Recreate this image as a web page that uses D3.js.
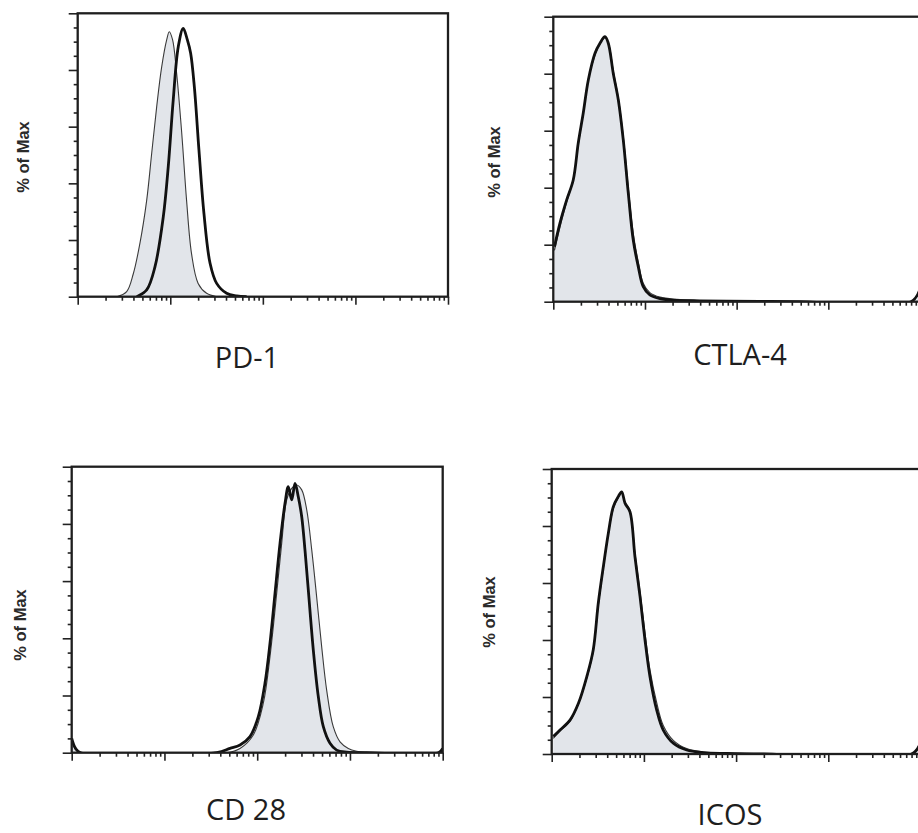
<!DOCTYPE html>
<html>
<head>
<meta charset="utf-8">
<script src="https://cdn.jsdelivr.net/npm/d3@7"></script>
<style>
  html, body { margin: 0; padding: 0; background: #fff; }
  svg { display: block; }
</style>
</head>
<body>
<svg id="chart" width="918" height="833"></svg>
<script>
// ---- Histogram data: fluorescence intensity (x) vs % of max (y) ----

// PD-1
const pd1ControlX = [26.5, 33.8, 39.8, 47.1, 55.6, 63, 71.3, 80.7, 91.4, 97.5, 106, 117, 133, 150, 170, 200, 247, 317];
const pd1ControlY = [0, 1.8, 8, 19, 34, 50.6, 67, 81, 90.6, 93.5, 90.6, 79, 57.7, 34, 15, 4.7, 1.2, 0];
const pd1SampleX  = [43.4, 55.6, 68.4, 83.9, 95.1, 107.6, 122, 138, 153, 166, 182, 204, 231, 269, 317, 406, 521, 668];
const pd1SampleY  = [0, 2.4, 10.6, 28, 45.9, 69.4, 88.2, 94.7, 90.6, 85.9, 74, 51.8, 29.4, 11.8, 4.7, 1.2, 0.3, 0];

// CTLA-4
const ctla4X        = [10.3, 11.8, 14.0, 16.5, 18.7, 21.2, 24.1, 28.5, 32.3, 36.6, 39.8, 45.1, 51.2, 58.0, 65.8, 74.5, 84.5, 95.7, 113, 146, 222, 397, 778, 1795, 4898, 80000, 100000];
const ctla4ControlY = [18, 26, 35, 43, 55, 66, 78, 86.5, 90.5, 92.5, 91, 81, 71.5, 58, 40, 24, 14, 6.5, 3.2, 1.6, 0.8, 0.4, 0.2, 0.1, 0, 0, 4];
const ctla4SampleY  = [19.3, 27.5, 35.7, 42.7, 55.6, 66.1, 77.8, 87.2, 90.7, 93.0, 90.7, 80.1, 70.8, 56.7, 38.0, 21.6, 12.3, 5.3, 2.4, 1.1, 0.5, 0.3, 0.2, 0.1, 0, 0, 4.5];

// CD 28
const cd28ControlX = [10, 11, 12.5, 469, 653, 908, 1164, 1374, 1622, 1837, 2080, 2355, 2667, 3020, 3420, 3873, 4375, 4955, 5610, 6607, 7816, 9594, 11830, 15170];
const cd28ControlY = [4, 1.2, 0, 0, 1.5, 6.2, 17.3, 33.6, 55.7, 73.2, 88.4, 92.4, 93.6, 91.9, 84.9, 70.9, 54.5, 37.1, 21.9, 9.1, 3.8, 1.5, 0.5, 0];
const cd28SampleX  = [10, 11, 12.5, 366, 509, 653, 836, 1028, 1213, 1374, 1556, 1762, 1995, 2163, 2355, 2559, 2773, 3020, 3273, 3556, 4027, 4560, 5164, 6095, 7194, 9226, 15170, 90000, 100000];
const cd28SampleY  = [5, 1.5, 0, 0, 1.5, 2.7, 5.6, 12.6, 24.3, 38.3, 55.7, 73.2, 87.2, 93, 88.4, 94.2, 89.5, 82.5, 70.9, 56.9, 35.9, 19.6, 9.1, 3.3, 0.9, 0.2, 0, 0, 1.5];

// ICOS
const icosX        = [10.4, 12.3, 15.8, 19.5, 24.0, 28.2, 32.0, 36.3, 41.1, 46.6, 52.7, 57.4, 62.4, 70.6, 80.0, 90.8, 102.8, 116.4, 137.7, 162.2, 208.4, 291.1, 440.6, 790.7, 2000, 80000, 100000];
const icosControlY = [5.5, 8, 11.5, 17.5, 26.5, 36, 52, 65, 77, 86, 90, 91.5, 88.5, 85.5, 70.5, 57, 42.5, 29.5, 18, 10, 4.8, 1.9, 0.7, 0.3, 0, 0, 3.5];
const icosSampleY  = [6.1, 8.4, 11.9, 17.8, 27.1, 36.5, 52.9, 65.7, 77.4, 86.8, 90.3, 92.0, 88.0, 85.0, 69.2, 55.2, 40.0, 27.1, 15.4, 8.4, 3.8, 1.4, 0.5, 0.2, 0, 0, 4];

// Axis tick values
const xMajorTicks = [10, 100, 1000, 10000, 100000];
const xMinorTicks = [10, 100, 1000, 10000].flatMap(d => [2, 3, 4, 5, 6, 7, 8, 9].map(m => d * m));
const yMajorTicks = [0, 20, 40, 60, 80, 100];
const yMinorTicks = d3.range(5, 100, 5).filter(v => v % 20 !== 0);

const yLabel = "% of Max";

// ---- Layout of the four panels ----
const panels = [
  { title: "PD-1",   box: { l: 77.7,  t: 13.3,  r: 448,   b: 296.7 },
    control: [pd1ControlX, pd1ControlY], sample: [pd1SampleX, pd1SampleY],
    ylab: [23, 157], tpos: [247, 368] },
  { title: "CTLA-4", box: { l: 553.3, t: 16.7,  r: 920,   b: 301.7 },
    control: [ctla4X, ctla4ControlY], sample: [ctla4X, ctla4SampleY],
    ylab: [494, 162], tpos: [740, 365] },
  { title: "CD 28",  box: { l: 71.7,  t: 466.7, r: 442.7, b: 752.7 },
    control: [cd28ControlX, cd28ControlY], sample: [cd28SampleX, cd28SampleY],
    ylab: [20, 625], tpos: [246, 820] },
  { title: "ICOS",   box: { l: 551.7, t: 469,   r: 920.5, b: 754 },
    control: [icosX, icosControlY], sample: [icosX, icosSampleY],
    ylab: [489, 612], tpos: [730, 825] }
];

const svg = d3.select("#chart");
const defs = svg.append("defs");

panels.forEach((p, i) => {
  const b = p.box;
  const x = d3.scaleLog().domain([10, 100000]).range([b.l, b.r]);
  const y = d3.scaleLinear().domain([0, 100]).range([b.b, b.t]);

  const g = svg.append("g");

  defs.append("clipPath").attr("id", "clip" + i)
    .append("rect").attr("x", b.l).attr("y", b.t)
    .attr("width", b.r - b.l).attr("height", b.b - b.t);

  const plot = g.append("g").attr("clip-path", `url(#clip${i})`);

  const pts = (xs, ys) => xs.map((v, k) => [v, ys[k]]);
  const ctrl = pts(p.control[0], p.control[1]);
  const samp = pts(p.sample[0], p.sample[1]);

  const area = d3.area()
    .x(d => x(d[0])).y0(y(0)).y1(d => y(d[1]))
    .curve(d3.curveCatmullRom.alpha(0.5));
  const line = d3.line()
    .x(d => x(d[0])).y(d => y(d[1]))
    .curve(d3.curveCatmullRom.alpha(0.5));

  // filled control histogram
  plot.append("path").datum(ctrl)
    .attr("d", area)
    .attr("fill", "#e2e5ea");
  plot.append("path").datum(ctrl)
    .attr("d", line)
    .attr("fill", "none")
    .attr("stroke", "#3a3a3a")
    .attr("stroke-width", 1.1);

  // bold sample histogram
  plot.append("path").datum(samp)
    .attr("d", line)
    .attr("fill", "none")
    .attr("stroke", "#111")
    .attr("stroke-width", 2.8)
    .attr("stroke-linejoin", "round");

  // y axis ticks
  const yMaj = d3.axisLeft(y).tickValues(yMajorTicks).tickSize(9).tickFormat("");
  const yMin = d3.axisLeft(y).tickValues(yMinorTicks).tickSize(4).tickFormat("");
  [yMaj, yMin].forEach(ax => {
    const ga = g.append("g").attr("transform", `translate(${b.l},0)`).call(ax);
    ga.select(".domain").remove();
    ga.selectAll("line").attr("stroke", "#222").attr("stroke-width", 1.6);
  });

  // x axis ticks
  const xMaj = d3.axisBottom(x).tickValues(xMajorTicks).tickSize(8).tickFormat("");
  const xMin = d3.axisBottom(x).tickValues(xMinorTicks).tickSize(4).tickFormat("");
  [xMaj, xMin].forEach(ax => {
    const ga = g.append("g").attr("transform", `translate(0,${b.b})`).call(ax);
    ga.select(".domain").remove();
    ga.selectAll("line").attr("stroke", "#222").attr("stroke-width", 1.6);
  });

  // frame
  g.append("rect")
    .attr("x", b.l).attr("y", b.t)
    .attr("width", b.r - b.l).attr("height", b.b - b.t)
    .attr("fill", "none")
    .attr("stroke", "#1e1e1e")
    .attr("stroke-width", 2.3);

  // y label
  g.append("text")
    .attr("transform", `translate(${p.ylab[0]},${p.ylab[1]}) rotate(-90)`)
    .attr("text-anchor", "middle")
    .attr("dominant-baseline", "central")
    .attr("font-family", "'Liberation Sans', Arial, sans-serif")
    .attr("font-weight", "bold")
    .attr("font-size", 16.5)
    .attr("fill", "#2a2a2a")
    .text(yLabel);

  // marker title
  g.append("text")
    .attr("x", p.tpos[0]).attr("y", p.tpos[1])
    .attr("text-anchor", "middle")
    .attr("font-family", "'Open Sans', sans-serif")
    .attr("font-size", 29)
    .attr("fill", "#1e1e1e")
    .text(p.title);
});
</script>
</body>
</html>
